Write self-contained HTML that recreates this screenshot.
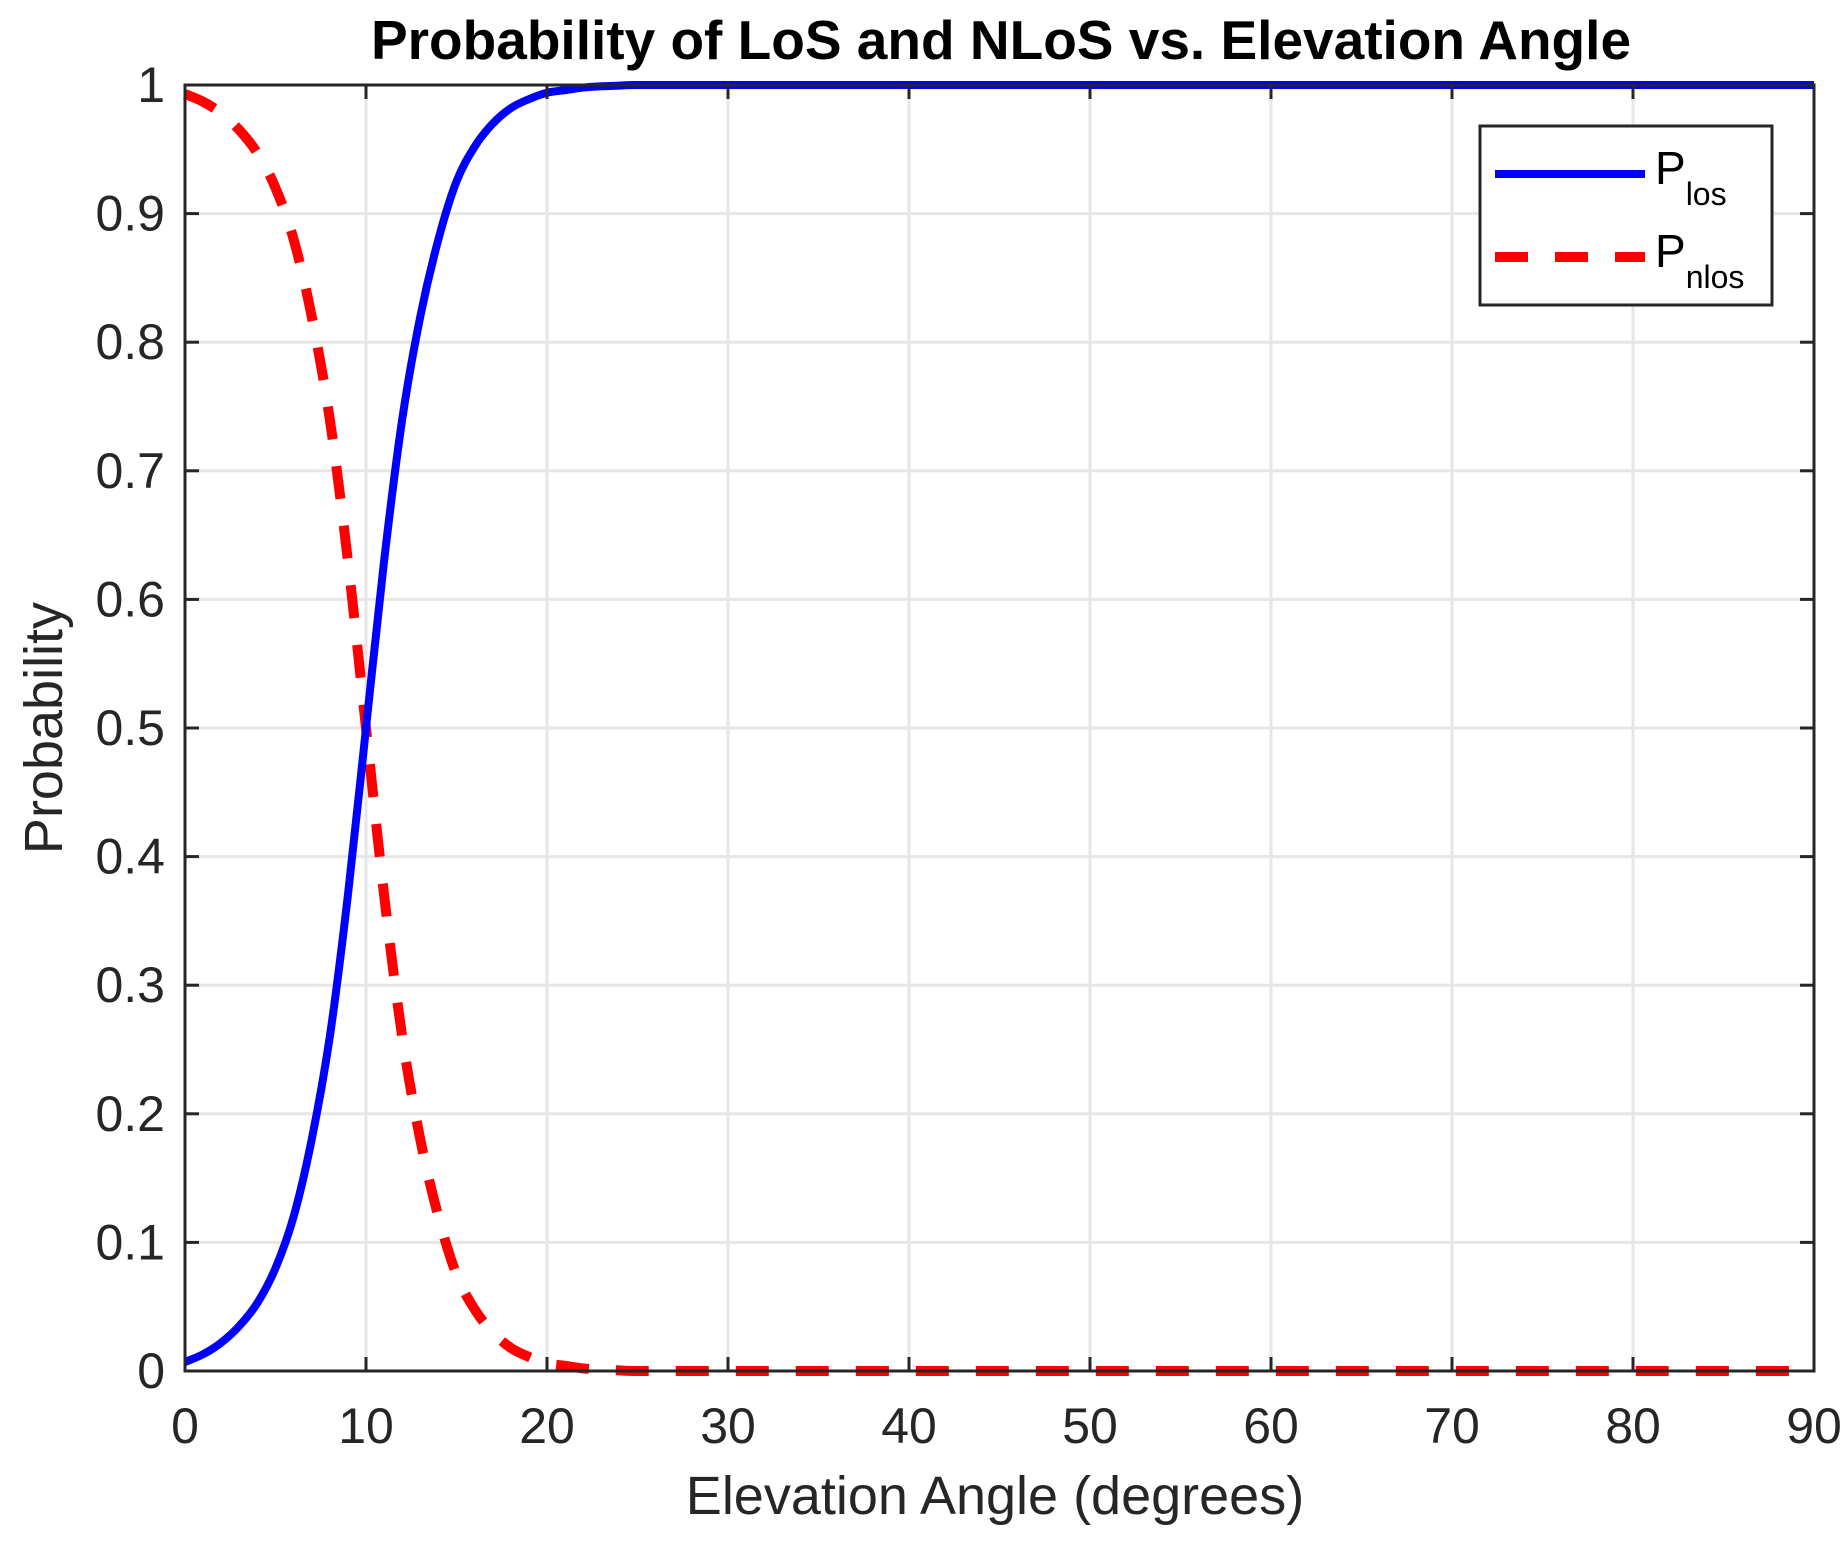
<!DOCTYPE html>
<html><head><meta charset="utf-8"><style>
html,body{margin:0;padding:0;background:#fff;}
svg{display:block;font-family:"Liberation Sans",Arial,sans-serif;}
</style></head><body>
<svg id="chart" width="1847" height="1541" viewBox="0 0 1847 1541">
<rect x="0" y="0" width="1847" height="1541" fill="#fff"/>
<g id="grid"></g>
<g id="series"></g>
<g id="axes"></g>
<text x="1001" y="59" text-anchor="middle" font-size="55" font-weight="bold" fill="#000">Probability of LoS and NLoS vs. Elevation Angle</text>
<text x="995" y="1514" text-anchor="middle" font-size="54" fill="#262626">Elevation Angle (degrees)</text>
<text x="0" y="0" transform="translate(62,728) rotate(-90)" text-anchor="middle" font-size="54" fill="#262626">Probability</text>
<g>
<rect x="1480" y="126" width="292" height="179" fill="#fff" stroke="#262626" stroke-width="3"/>
<line x1="1495" y1="174" x2="1645" y2="174" stroke="#0000ff" stroke-width="8"/>
<text x="1655" y="184" font-size="46" fill="#000">P<tspan font-size="32" dy="21">los</tspan></text>
<line x1="1495" y1="257" x2="1645" y2="257" stroke="#ff0000" stroke-width="10" stroke-dasharray="33,27"/>
<text x="1655" y="267" font-size="46" fill="#000">P<tspan font-size="32" dy="21">nlos</tspan></text>
</g>
</svg>
<script>
const angles = [0,1,2,3,4,5,6,7,8,9,10,11,12,13,14,15,16,17,18,19,20,21,22,23,24,25,30,40,50,60,70,80,90];
const pLos = [0.007,0.013,0.022,0.035,0.053,0.08,0.12,0.18,0.26,0.37,0.5,0.63,0.74,0.82,0.88,0.925,0.952,0.97,0.982,0.989,0.994,0.996,0.998,0.999,0.9995,1,1,1,1,1,1,1,1];
const pNlos = [0.993,0.987,0.978,0.965,0.947,0.92,0.88,0.82,0.74,0.63,0.5,0.37,0.26,0.18,0.12,0.075,0.048,0.03,0.018,0.011,0.006,0.004,0.002,0.001,0.0005,0,0,0,0,0,0,0,0];
const xTicks = [0,10,20,30,40,50,60,70,80,90];
const yTicks = [0,0.1,0.2,0.3,0.4,0.5,0.6,0.7,0.8,0.9,1];
const yTickLabels = ['0','0.1','0.2','0.3','0.4','0.5','0.6','0.7','0.8','0.9','1'];

const L=185,R=1814,T=85,B=1371;
const xS=v=>L+(v-0)/(90-0)*(R-L);
const yS=v=>B-(v-0)/(1-0)*(B-T);
const NS='http://www.w3.org/2000/svg';
function mk(tag,attrs,parent){const e=document.createElementNS(NS,tag);for(const k in attrs)e.setAttribute(k,attrs[k]);parent.appendChild(e);return e;}
const grid=document.getElementById('grid'),axes=document.getElementById('axes'),series=document.getElementById('series');

xTicks.forEach((t,i)=>{
  const x=xS(t);
  const g=mk('line',{x1:x,y1:T,x2:x,y2:B,stroke:'#e6e6e6','stroke-width':3},grid);
  
  
  const tk=mk('line',{x1:x,y1:B,x2:x,y2:B-14,stroke:'#262626','stroke-width':3},axes);
  
  
  const tk2=mk('line',{x1:x,y1:T,x2:x,y2:T+14,stroke:'#262626','stroke-width':3},axes);
  
  
  const tx=mk('text',{x:x,y:1443,'text-anchor':'middle','font-size':50,fill:'#262626'},axes);
  tx.textContent=String(t);
  
  
});
yTicks.forEach((t,i)=>{
  const y=yS(t);
  const g=mk('line',{x1:L,y1:y,x2:R,y2:y,stroke:'#e6e6e6','stroke-width':3},grid);
  
  
  const tk=mk('line',{x1:L,y1:y,x2:L+14,y2:y,stroke:'#262626','stroke-width':3},axes);
  
  
  const tk2=mk('line',{x1:R,y1:y,x2:R-14,y2:y,stroke:'#262626','stroke-width':3},axes);
  
  
  const tx=mk('text',{x:165,y:y+17,'text-anchor':'end','font-size':50,fill:'#262626'},axes);
  tx.textContent=yTickLabels[i];
  
  
});
const box=mk('rect',{x:L,y:T,width:R-L,height:B-T,fill:'none',stroke:'#262626','stroke-width':3},axes);



function smoothPath(xs,ys){
  const p=xs.map((a,i)=>[xS(a),yS(ys[i])]);
  let d='M'+p[0][0]+','+p[0][1];
  for(let i=0;i<p.length-1;i++){
    const p0=p[Math.max(0,i-1)],p1=p[i],p2=p[i+1],p3=p[Math.min(p.length-1,i+2)];
    const c1x=p1[0]+(p2[0]-p0[0])/6,c1y=p1[1]+(p2[1]-p0[1])/6;
    const c2x=p2[0]-(p3[0]-p1[0])/6,c2y=p2[1]-(p3[1]-p1[1])/6;
    d+=' C'+c1x+','+c1y+' '+c2x+','+c2y+' '+p2[0]+','+p2[1];
  }
  return d;
}
const l1=mk('path',{d:smoothPath(angles,pNlos),fill:'none',stroke:'#ff0000','stroke-width':10,'stroke-dasharray':'33,27'},series);


const l2=mk('path',{d:smoothPath(angles,pLos),fill:'none',stroke:'#0000ff','stroke-width':8},series);


</script>
</body></html>
